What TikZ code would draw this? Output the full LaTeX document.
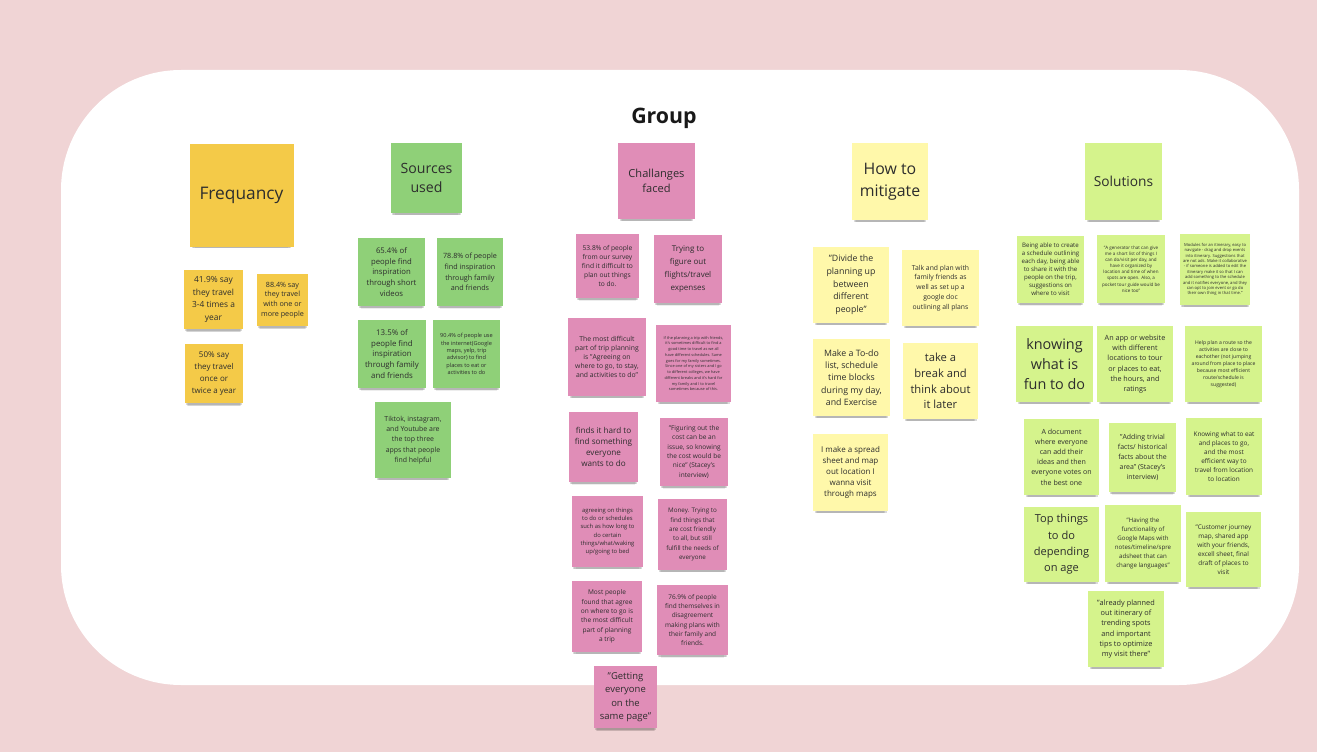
\documentclass[tikz,border=0pt]{standalone}
\usepackage{fontspec}
\setmainfont{Open Sans}
\usepackage{tikz}
\usetikzlibrary{shadows}
\usepackage{xcolor}
\definecolor{bgpink}{RGB}{240,212,213}
\definecolor{notegold}{RGB}{244,202,72}
\definecolor{notegreen}{RGB}{143,208,120}
\definecolor{notepink}{RGB}{224,141,183}
\definecolor{notecream}{RGB}{255,248,170}
\definecolor{notelime}{RGB}{213,243,140}
\definecolor{inktext}{RGB}{45,45,45}
\newcommand{\fs}[2]{\fontsize{#1}{#2}\selectfont}

\begin{document}
\begin{tikzpicture}[x=0.75pt,y=-0.75pt,
  wh/.style 2 args={minimum width=#1*0.75pt,minimum height=#2*0.75pt}]
\tikzstyle{note}=[inner sep=0pt,align=center,text=inktext,
  drop shadow={shadow xshift=0pt,shadow yshift=-5pt,shadow scale=0.9,opacity=0.07,fill=black},
  drop shadow={shadow xshift=0pt,shadow yshift=-3.8pt,shadow scale=0.93,opacity=0.1,fill=black},
  drop shadow={shadow xshift=0pt,shadow yshift=-2.4pt,shadow scale=0.96,opacity=0.14,fill=black}]
\tikzstyle{gold}=[note,fill=notegold]
\tikzstyle{green}=[note,fill=notegreen]
\tikzstyle{pink}=[note,fill=notepink]
\tikzstyle{cream}=[note,fill=notecream]
\tikzstyle{lime}=[note,fill=notelime]
% board
\fill[bgpink] (0,0) rectangle (1317,752);
\useasboundingbox (0,0) rectangle (1317,752);
\fill[white,rounded corners=90pt] (61,70) rectangle (1299,685);
\node[text=black!90,font=\fs{16}{19}\bfseries] (title) at (664,118) {Group};
% frequency
\node[gold,wh={104}{103},font=\fs{13}{16}] (fq) at (241.5,195.5) {Frequancy};
\node[gold,wh={59}{59},font=\fs{6.3}{9.5}] (fq1) at (213.5,299.5) {41.9\%  say\\they travel\\3-4 times a\\year};
\node[gold,wh={51}{52},font=\fs{5.4}{7.3}] (fq2) at (282.5,300) {88.4\% say\\they travel\\with one or\\more people};
\node[gold,wh={58}{59},font=\fs{6}{9.1}] (fq3) at (214,373.5) {50\% say\\they travel\\once or\\twice a year};
% sources
\node[green,wh={71}{70},font=\fs{10.6}{13.8}] (src) at (426.5,178) {Sources\\used};
\node[green,wh={67}{68},font=\fs{5.8}{8.1}] (src1) at (391.5,272) {65.4\% of\\people find\\inspiration\\through short\\videos};
\node[green,wh={66}{68},font=\fs{5.4}{8}] (src2) at (470,272) {78.8\% of people\\find inspiration\\through family\\and friends};
\node[green,wh={68}{68},font=\fs{5.9}{7.9}] (src3) at (392,354) {13.5\% of\\people find\\inspiration\\through family\\and friends};
\node[green,wh={67}{68},font=\fs{4.2}{5.5}] (src4) at (466.5,354) {90.4\% of people use\\the internet(Google\\maps, yelp, trip\\advisor) to find\\places to eat or\\activities to do};
\node[green,wh={76}{76},font=\fs{5.2}{7.8}] (src5) at (413,440) {Tiktok, instagram,\\and Youtube are\\the top three\\apps that people\\find helpful};
% challenges
\node[pink,wh={77}{76},font=\fs{8.3}{10.8}] (ch) at (656.5,181) {Challanges\\faced};
\node[pink,wh={63}{64},font=\fs{5}{6.9}] (ch1) at (607.5,266) {53.8\% of people\\from our survey\\find it difficult to\\plan out things\\to do.};
\node[pink,wh={68}{68},font=\fs{6}{9.7}] (ch2) at (688,269) {Trying to\\figure out\\flights/travel\\expenses};
\node[pink,wh={78}{78},font=\fs{5.1}{6.9}] (ch3) at (607,357) {The most difficult\\part of trip planning\\is "Agreeing on\\where to go, to stay,\\and activities to do"};
\node[pink,wh={75}{77},font=\fs{2.9}{4.3}] (ch4) at (693.5,363.5) {If the planning a trip with friends,\\it's sometimes difficult to find a\\good time to travel as we all\\have different schedules. Same\\goes for my family sometimes.\\Since one of my sisters and I go\\to different colleges, we have\\different breaks and it's hard for\\my family and I to travel\\sometimes because of this.};
\node[pink,wh={69}{70},font=\fs{6.1}{8.3}] (ch5) at (603.5,447) {finds it hard to\\find something\\everyone\\wants to do};
\node[pink,wh={68}{68},font=\fs{4.9}{7}] (ch6) at (694,452) {"Figuring out the\\cost can be an\\issue, so knowing\\the cost would be\\nice" (Stacey's\\interview)};
\node[pink,wh={71}{71},font=\fs{4.4}{6.25}] (ch7) at (607.5,531.5) {agreeing on things\\to do or schedules\\such as how long to\\do certain\\things/what/waking\\up/going to bed};
\node[pink,wh={69}{71},font=\fs{4.7}{7}] (ch8) at (692.5,534.5) {Money. Trying to\\find things that\\are cost friendly\\to all, but still\\fulfill the needs of\\everyone};
\node[pink,wh={70}{71},font=\fs{4.9}{7.1}] (ch9) at (607,616.5) {Most people\\found that agree\\on where to go is\\the most difficult\\part of planning\\a trip};
\node[pink,wh={71}{70},font=\fs{4.85}{7}] (ch10) at (692.5,620) {76.9\% of people\\find themselves in\\disagreement\\making plans with\\their family and\\friends.};
\node[pink,wh={63}{62},font=\fs{7.1}{10}] (ch11) at (625.5,697) {"Getting\\everyone\\on the\\same page"};
% mitigate
\node[cream,wh={76}{77},font=\fs{11.9}{16.2}] (mt) at (890,181.5) {How to\\mitigate};
\node[cream,wh={76}{76},font=\fs{6.6}{9.5}] (mt1) at (851,285) {"Divide the\\planning up\\between\\different\\people"};
\node[cream,wh={77}{76},font=\fs{5.1}{7.4}] (mt2) at (940.5,288) {Talk and plan with\\family friends as\\well as set up a\\google doc\\outlining all plans};
\node[cream,wh={77}{77},font=\fs{6.6}{9.2}] (mt3) at (851.5,377.5) {Make a To-do\\list, schedule\\time blocks\\during my day,\\and Exercise};
\node[cream,wh={75}{76},font=\fs{8.4}{11.8}] (mt4) at (940.5,381) {take a\\break and\\think about\\it later};
\node[cream,wh={75}{77},font=\fs{6}{8.4}] (mt5) at (850.5,472.5) {I make a spread\\sheet and map\\out location I\\wanna visit\\through maps};
% solutions
\node[lime,wh={77}{77},font=\fs{10.3}{13}] (sol) at (1123.5,181.5) {Solutions};
\node[lime,wh={67}{67},font=\fs{4.6}{6}] (sol1) at (1050.5,269.5) {Being able to create\\a schedule outlining\\each day, being able\\to share it with the\\people on the trip,\\suggestions on\\where to visit};
\node[lime,wh={68}{68},font=\fs{3.4}{4.6}] (sol2) at (1131,269) {"A generator that can give\\me a short list of things I\\can do/visit per day, and\\have it organized by\\location and time of when\\spots are open. Also, a\\pocket tour guide would be\\nice too"};
\node[lime,wh={70}{71},font=\fs{3.1}{4.05}] (sol3) at (1215,269.5) {Modules for an itinerary, easy to\\navigate - drag and drop events\\into itinerary. Suggestions that\\are not ads. Make it collaborative\\- if someone is added to edit the\\itinerary make it so that I can\\add something to the schedule\\and it notifies everyone, and they\\can opt to join event or go do\\their own thing in that time."};
\node[lime,wh={77}{76},font=\fs{10.8}{14.7}] (sol4) at (1054.5,364) {knowing\\what is\\fun to do};
\node[lime,wh={76}{76},font=\fs{5.4}{7.75}] (sol5) at (1135,364) {An app or website\\with different\\locations to tour\\or places to eat,\\the hours, and\\ratings};
\node[lime,wh={77}{76},font=\fs{3.8}{5.2}] (sol6) at (1223.5,364) {Help plan a route so the\\activities are close to\\eachother (not jumping\\around from place to place\\because most efficient\\route/schedule is\\suggested)};
\node[lime,wh={75}{76},font=\fs{5.3}{7.65}] (sol7) at (1061.5,457) {A document\\where everyone\\can add their\\ideas and then\\everyone votes on\\the best one};
\node[lime,wh={67}{69},font=\fs{5.2}{7.4}] (sol8) at (1142.5,457.5) {"Adding trivial\\facts/ historical\\facts about the\\area" (Stacey's\\interview)};
\node[lime,wh={76}{77},font=\fs{4.8}{6.65}] (sol9) at (1224,456.5) {Knowing what to eat\\and places to go,\\and the most\\efficient way to\\travel from location\\to location};
\node[lime,wh={75}{75},font=\fs{8.3}{12.25}] (sol10) at (1061.5,544.5) {Top things\\to do\\depending\\on age};
\node[lime,wh={76}{77},font=\fs{4.6}{6.65}] (sol11) at (1143,543.5) {"Having the\\functionality of\\Google Maps with\\notes/timeline/spre\\adsheet that can\\change languages"};
\node[lime,wh={75}{75},font=\fs{4.8}{6.7}] (sol12) at (1223.5,549.5) {"Customer journey\\map, shared app\\with your friends,\\excell sheet, final\\draft of places to\\visit};
\node[lime,wh={76}{76},font=\fs{5.5}{7.75}] (sol13) at (1126,629) {"already planned\\out itinerary of\\trending spots\\and important\\tips to optimize\\my visit there"};
\end{tikzpicture}
\end{document}
